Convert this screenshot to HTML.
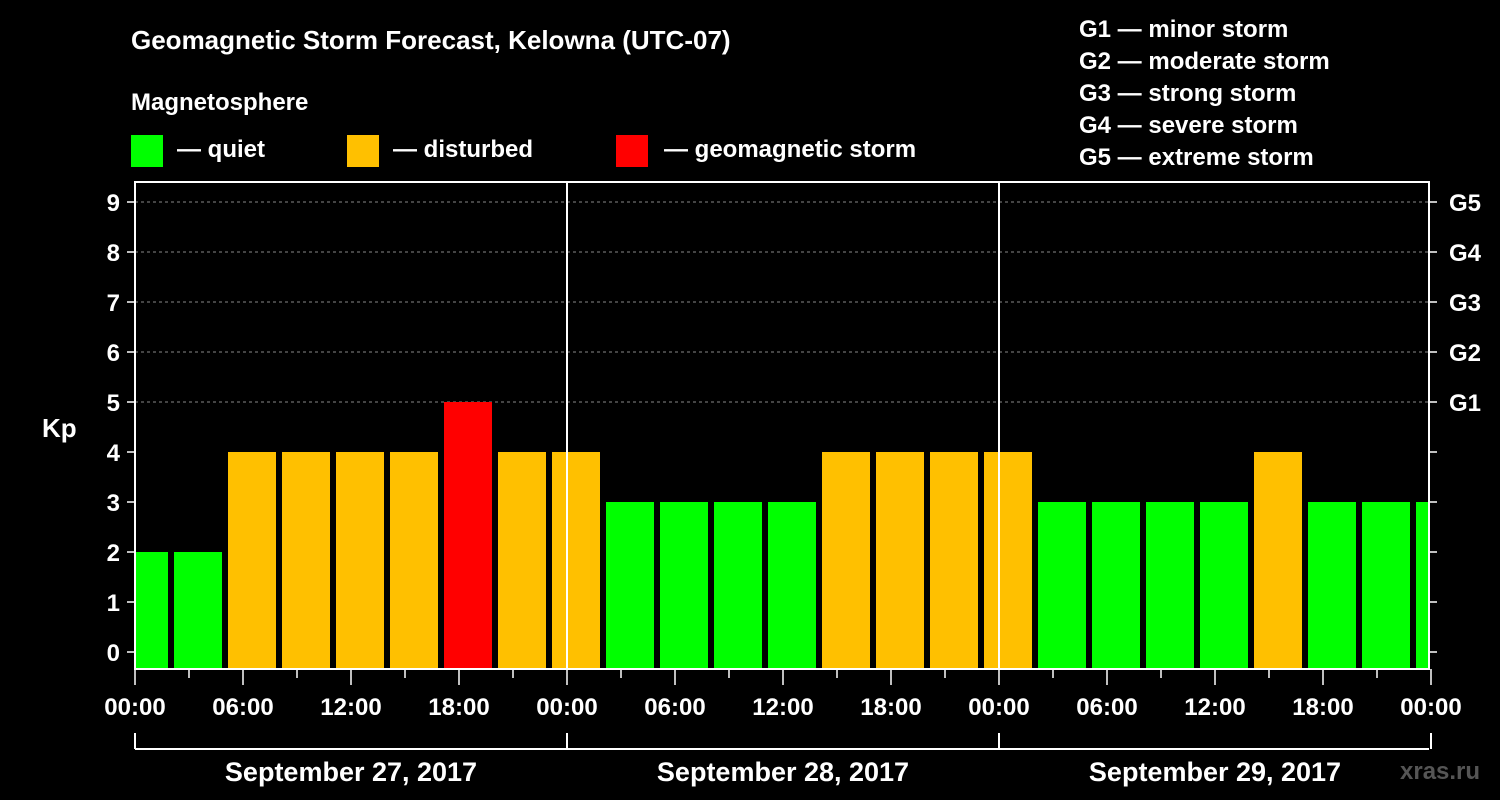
<!DOCTYPE html>
<html><head><meta charset="utf-8"><style>
body{margin:0;background:#000;}
svg{display:block;font-family:"Liberation Sans",sans-serif;font-weight:bold;}
</style></head><body>
<svg id="chart" width="1500" height="800" viewBox="0 0 1500 800">
<rect width="1500" height="800" fill="#000"/>
<text x="131" y="49" fill="#fff" font-size="26">Geomagnetic Storm Forecast, Kelowna (UTC-07)</text>
<text x="131" y="110" fill="#fff" font-size="24">Magnetosphere</text>
<g><rect x="131" y="135" width="32" height="32" fill="#00ff00"/><text x="177" y="157" fill="#fff" font-size="24">— quiet</text></g>
<g><rect x="347" y="135" width="32" height="32" fill="#ffc000"/><text x="393" y="157" fill="#fff" font-size="24">— disturbed</text></g>
<g><rect x="616" y="135" width="32" height="32" fill="#ff0000"/><text x="664" y="157" fill="#fff" font-size="24">— geomagnetic storm</text></g>
<g fill="#fff" font-size="24">
<text x="1079" y="37">G1 — minor storm</text>
<text x="1079" y="69">G2 — moderate storm</text>
<text x="1079" y="101">G3 — strong storm</text>
<text x="1079" y="133">G4 — severe storm</text>
<text x="1079" y="165">G5 — extreme storm</text>
</g>
<text x="42" y="437" fill="#fff" font-size="26">Kp</text>
<g id="plot"></g>
<text x="1400" y="779" fill="#555" font-size="24">xras.ru</text>
</svg>
<script>
const kpValues=[2,2,4,4,4,4,5,4,4,3,3,3,3,4,4,4,4,3,3,3,3,4,3,3,3];
const yTicks=[0,1,2,3,4,5,6,7,8,9];
const gLabels=["G1","G2","G3","G4","G5"];
const gLevels=[5,6,7,8,9];
const xTickLabels=["00:00","06:00","12:00","18:00","00:00","06:00","12:00","18:00","00:00","06:00","12:00","18:00","00:00"];
const dateLabels=["September 27, 2017","September 28, 2017","September 29, 2017"];
const L=135,R=1429,T=182,B=669;
const NS="http://www.w3.org/2000/svg";
const plot=document.getElementById('plot');
function y(v){return 652-v*50;}
function xh(h){return L+h*18;}
function mk(tag,attrs,parent){const e=document.createElementNS(NS,tag);for(const k in attrs)e.setAttribute(k,attrs[k]);(parent||plot).appendChild(e);return e;}
function color(v){return v>=5?"#ff0000":v>=4?"#ffc000":"#00ff00";}
// grid
gLevels.forEach((g)=>{const l=mk('line',{x1:L,x2:R,y1:y(g),y2:y(g),stroke:'#888','stroke-dasharray':'3,3','stroke-width':1});

});
// bars: bin i covers hours from 1.83+3*(i-1)
const clip=mk('clipPath',{id:'pc'});mk('rect',{x:L+1,y:T,width:R-L-1,height:B-T},clip);
const bg=mk('g',{'clip-path':'url(#pc)'});
kpValues.forEach((v,i)=>{const hs=(33/18)+3*(i-1);const x0=xh(hs)+6;const x1=xh(hs+3);
const r=mk('rect',{x:x0,y:y(v),width:x1-x0,height:B-1-y(v),fill:color(v)},bg);

});
// day separators
[24,48].forEach(h=>{const l=mk('line',{x1:xh(h),x2:xh(h),y1:T,y2:B,stroke:'#fff','stroke-width':2});

});
// frame
const fr=mk('rect',{x:L,y:T,width:R-L,height:B-T,fill:'none',stroke:'#fff','stroke-width':2});


// y ticks
yTicks.forEach(v=>{mk('line',{x1:L-8,x2:L,y1:y(v),y2:y(v),stroke:'#fff','stroke-width':1.5});
mk('line',{x1:R,x2:R+8,y1:y(v),y2:y(v),stroke:'#fff','stroke-width':1.5});
const t=mk('text',{x:L-15,y:y(v)+9,fill:'#fff','font-size':24,'text-anchor':'end'});t.textContent=v;

});
gLabels.forEach((g,i)=>{const t=mk('text',{x:R+20,y:y(gLevels[i])+9,fill:'#fff','font-size':24});t.textContent=g;

});
// x ticks
for(let h=0;h<=72;h+=3){const major=h%6===0;mk('line',{x1:xh(h),x2:xh(h),y1:B,y2:B+(major?16:9),stroke:'#fff','stroke-width':1.5});}
xTickLabels.forEach((s,i)=>{const t=mk('text',{x:xh(i*6),y:715,fill:'#fff','font-size':24,'text-anchor':'middle'});t.textContent=s;

});
// date bracket
mk('line',{x1:L,x2:R,y1:749,y2:749,stroke:'#fff','stroke-width':2});
[0,24,48,72].forEach(h=>mk('line',{x1:xh(h),x2:xh(h),y1:733,y2:749,stroke:'#fff','stroke-width':2}));
dateLabels.forEach((s,i)=>{const t=mk('text',{x:xh(i*24+12),y:781,fill:'#fff','font-size':27,'text-anchor':'middle'});t.textContent=s;

});
</script>
</body></html>
